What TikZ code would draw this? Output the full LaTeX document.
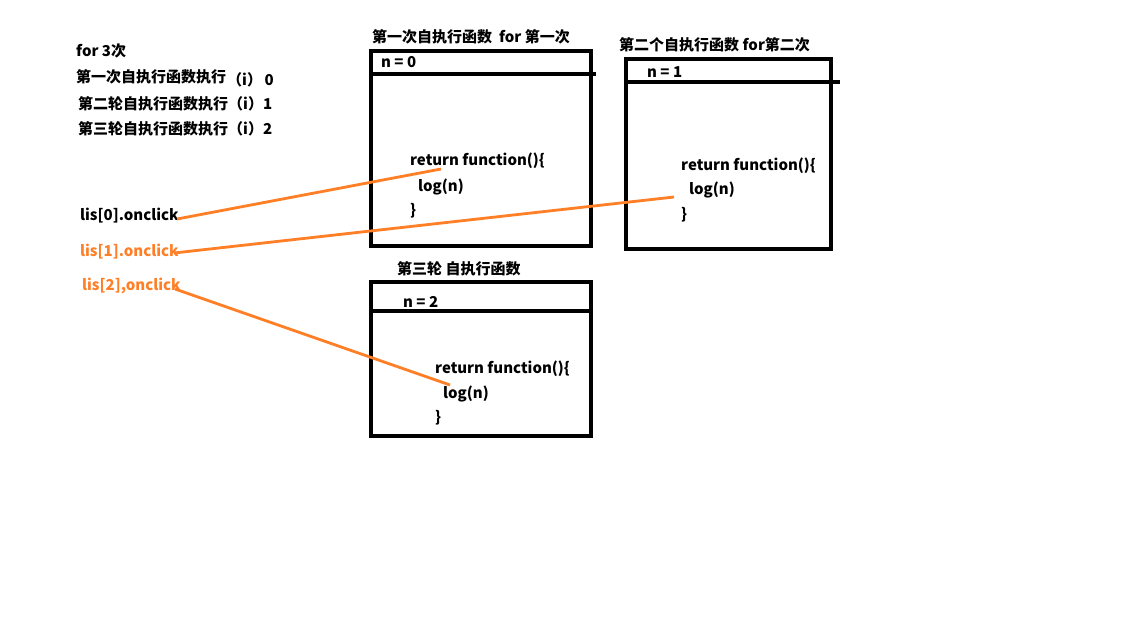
\documentclass[tikz,border=0pt]{standalone}
\usepackage{fontspec}
\setmainfont{Noto Sans CJK SC}
\definecolor{paintorange}{HTML}{FF7F27}
\begin{document}
\begin{tikzpicture}[x=1pt,y=-1pt,
  lbl/.style={anchor=west,inner sep=0pt,yshift=-2pt,font=\fontsize{15}{17}\selectfont\bfseries},
  frame/.style={draw=black,line width=4.5pt,inner sep=0pt},
  sep/.style={draw=black,line width=3.5pt},
  wire/.style={draw=paintorange,line width=2.8pt}]
\useasboundingbox (0,0) rectangle (1122,629);
\fill[white] (0,0) rectangle (1122,629);

% left notes
\node[lbl] (for3) at (76,49) {for 3次};
\node[lbl] (r1) at (76,75) {第一次自执行函数执行};
\node[lbl] (r1b) at (227,78) {（i）\,0};
\node[lbl] (r2) at (78,102) {第二轮自执行函数执行（i）1};
\node[lbl] (r3) at (78,127) {第三轮自执行函数执行（i）2};

% box 1
\node[lbl] (t1) at (372,35) {第一次自执行函数\ \ for 第一次};
\node[frame,minimum width=220pt,minimum height=195pt] (box1) at (481,148.5) {};
\draw[sep] (369,74) -- (596,74);
\node[lbl] (n0) at (381,60) {n = 0};
\node[lbl] (rf1) at (410,159) {return function()\{};
\node[lbl] (lg1) at (418,185) {log(n)};
\node[lbl] (cb1) at (410,209) {\}};

% box 2
\node[lbl] (t2) at (619,43) {第二个自执行函数 for第二次};
\node[frame,minimum width=205pt,minimum height=190pt] (box2) at (728.5,154) {};
\draw[sep] (628,82) -- (840,82);
\node[lbl] (n1) at (647,70.5) {n = 1};
\node[lbl] (rf2) at (681,164) {return function()\{};
\node[lbl] (lg2) at (689,188) {log(n)};
\node[lbl] (cb2) at (681,213) {\}};

% box 3
\node[lbl] (t3) at (397,267) {第三轮 自执行函数};
\node[frame,minimum width=220pt,minimum height=154pt] (box3) at (481,359) {};
\draw[sep] (369,311) -- (593,311);
\node[lbl] (n2) at (403,300) {n = 2};
\node[lbl] (rf3) at (435,367) {return function()\{};
\node[lbl] (lg3) at (443,392) {log(n)};
\node[lbl] (cb3) at (435,416) {\}};

% onclick labels
\node[lbl] (lis0) at (80,214) {lis[0].onclick};
\node[lbl,text=paintorange] (lis1) at (80,250) {lis[1].onclick};
\node[lbl,text=paintorange] (lis2) at (82,284) {lis[2],onclick};

\coordinate (e0) at (441,169);
\coordinate (e1) at (674,197);
\coordinate (e2) at (450,385);
\coordinate (s0) at (177,219);
\coordinate (s1) at (174,253);
\coordinate (s2) at (175,289);
\draw[wire] (s0) -- (e0);
\draw[wire] (s1) -- (e1);
\draw[wire] (s2) -- (e2);
\end{tikzpicture}
\end{document}
